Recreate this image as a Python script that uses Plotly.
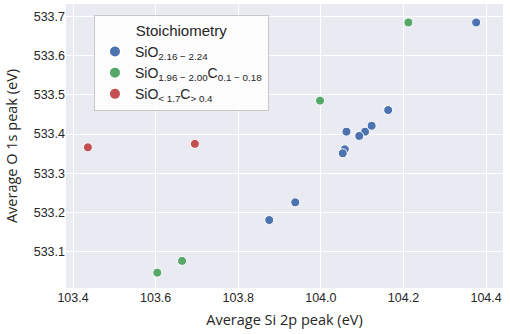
import plotly.graph_objects as go

blue_x = [104.376, 104.163, 104.123, 104.107, 104.093, 104.062, 104.058, 104.053, 103.938, 103.875]
blue_y = [533.684, 533.461, 533.421, 533.406, 533.395, 533.406, 533.361, 533.351, 533.226, 533.181]
green_x = [104.212, 103.998, 103.664, 103.604]
green_y = [533.684, 533.485, 533.077, 533.047]
red_x = [103.436, 103.695]
red_y = [533.366, 533.375]

names = ["SiO<sub>2.16 − 2.24</sub>",
         "SiO<sub>1.96 − 2.00</sub>C<sub>0.1 − 0.18</sub>",
         "SiO<sub>&lt; 1.7</sub>C<sub>&gt; 0.4</sub>"]
colors = ["#4C72B0", "#55A868", "#C44E52"]

fig = go.Figure()
for xs, ys, n, c in zip([blue_x, green_x, red_x], [blue_y, green_y, red_y], names, colors):
    fig.add_trace(go.Scatter(x=xs, y=ys, mode="markers", name=n,
                             marker=dict(color=c, size=9, line=dict(color="white", width=1))))

fig.update_layout(
    width=510, height=334,
    margin=dict(l=66, r=7, t=4, b=46, autoexpand=False),
    paper_bgcolor="white", plot_bgcolor="#EAEAF2",
    font=dict(family="Liberation Sans, Arial", size=12.5, color="#262626"),
    legend=dict(x=0.064, y=0.96, xanchor="left", yanchor="top",
                bgcolor="rgba(255,255,255,0.85)", bordercolor="#C8C8C8", borderwidth=1,
                title=dict(text="Stoichiometry", side="top center", font=dict(size=15)),
                font=dict(size=14), itemsizing="constant", tracegroupgap=0),
    xaxis=dict(range=[103.383, 104.441], tickvals=[103.4, 103.6, 103.8, 104.0, 104.2, 104.4],
               tickformat=".1f", gridcolor="white", gridwidth=1.2, zeroline=False, showline=False,
               automargin=False,
               title=dict(text="Average Si 2p peak (eV)", font=dict(size=14.5, family="Open Sans"), standoff=11), ticks=""),
    yaxis=dict(range=[533.008, 533.731], tickvals=[533.1, 533.2, 533.3, 533.4, 533.5, 533.6, 533.7],
               tickformat=".1f", gridcolor="white", gridwidth=1.2, zeroline=False, showline=False,
               automargin=False,
               title=dict(text="Average O 1s peak (eV)", font=dict(size=14.5, family="Open Sans"), standoff=12), ticks=""),
    showlegend=True,
)
fig.write_html("out.html", post_script="document.body.style.margin='0';",
               config={"displayModeBar": False})
